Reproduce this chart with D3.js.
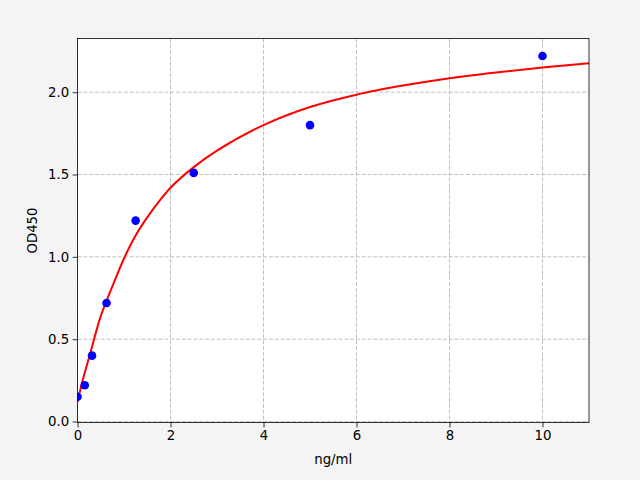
<!DOCTYPE html>
<html>
<head>
<meta charset="utf-8">
<script src="https://cdn.jsdelivr.net/npm/d3@7"></script>
<style>
  body { margin: 0; background: #f4f4f4; }
  svg { display: block; font-family: "DejaVu Sans", sans-serif; }
</style>
</head>
<body>
<script>
// standard points (concentration vs OD)
var conc = [0, 0.156, 0.3125, 0.625, 1.25, 2.5, 5, 10];
var od = [0.15, 0.22, 0.40, 0.72, 1.22, 1.51, 1.80, 2.22];

// fitted curve
var curveX = [0, 0.12, 0.27, 0.5, 0.75, 1.0, 1.25, 1.5, 1.75, 2.0, 2.5, 3, 4, 5, 6, 7, 8, 9, 10, 11];
var curveY = [0.12, 0.26, 0.41, 0.64, 0.82, 0.99, 1.13, 1.24, 1.335, 1.42, 1.545, 1.645, 1.80, 1.91, 1.985, 2.04, 2.085, 2.12, 2.15, 2.176];

var xTicks = [0, 2, 4, 6, 8, 10];
var yTicks = [0, 0.5, 1.0, 1.5, 2.0];

var margin = {top: 38.5, left: 77.5, bottom: 57.5, right: 51};
var totalWidth = 640;
var totalHeight = 480;
var width = totalWidth - margin.left - margin.right;
var height = totalHeight - margin.top - margin.bottom;

var x = d3.scaleLinear().domain([0, 11]).range([0, width]);
var y = d3.scaleLinear().domain([-0.006, 2.326]).range([height, 0]);

var svg = d3.select("body").append("svg")
  .attr("width", totalWidth)
  .attr("height", totalHeight)
  .append("g")
  .attr("transform", "translate(" + margin.left + "," + margin.top + ")");

svg.append("rect")
  .attr("width", width).attr("height", height)
  .attr("fill", "white");

svg.append("clipPath").attr("id", "clip")
  .append("rect").attr("width", width).attr("height", height);

// grid
svg.selectAll(".gx").data(xTicks).enter().append("line")
  .attr("x1", function(d) { return x(d); }).attr("x2", function(d) { return x(d); })
  .attr("y1", 0).attr("y2", height)
  .attr("stroke", "#b0b0b0").attr("stroke-width", 0.8).attr("stroke-dasharray", "4,1.8");
svg.selectAll(".gy").data(yTicks).enter().append("line")
  .attr("y1", function(d) { return y(d); }).attr("y2", function(d) { return y(d); })
  .attr("x1", 0).attr("x2", width)
  .attr("stroke", "#b0b0b0").attr("stroke-width", 0.8).attr("stroke-dasharray", "4,1.8");

var plot = svg.append("g").attr("clip-path", "url(#clip)");

var curve = curveX.map(function(v, i) { return [v, curveY[i]]; });
var line = d3.line()
  .x(function(d) { return x(d[0]); })
  .y(function(d) { return y(d[1]); })
  .curve(d3.curveCatmullRom.alpha(0.5));

plot.append("path")
  .datum(curve)
  .attr("d", line)
  .attr("fill", "none")
  .attr("stroke", "red")
  .attr("stroke-width", 2);

plot.selectAll("circle")
  .data(conc)
  .enter().append("circle")
  .attr("cx", function(d) { return x(d); })
  .attr("cy", function(d, i) { return y(od[i]); })
  .attr("r", 4.3)
  .attr("fill", "blue");

// axes
var xAxis = svg.append("g")
  .attr("transform", "translate(0," + height + ")")
  .call(d3.axisBottom(x).tickValues(xTicks).tickFormat(d3.format("d")).tickSize(4.9).tickPadding(3.5));
var yAxis = svg.append("g")
  .call(d3.axisLeft(y).tickValues(yTicks).tickFormat(d3.format(".1f")).tickSize(4.9).tickPadding(3.5));

[xAxis, yAxis].forEach(function(a) {
  a.select(".domain").remove();
  a.selectAll("line").attr("stroke", "black").attr("stroke-width", 0.8);
  a.selectAll("text").attr("font-family", "DejaVu Sans").attr("font-size", "13.3px").attr("fill", "black");
});

svg.append("rect")
  .attr("width", width).attr("height", height)
  .attr("fill", "none").attr("stroke", "black").attr("stroke-width", 0.8);

svg.append("text")
  .attr("x", width / 2).attr("y", height + 41)
  .attr("text-anchor", "middle")
  .attr("font-size", "13.3px")
  .text("ng/ml");

svg.append("text")
  .attr("transform", "rotate(-90)")
  .attr("x", -height / 2).attr("y", -41)
  .attr("text-anchor", "middle")
  .attr("font-size", "13.3px")
  .text("OD450");
</script>
</body>
</html>
